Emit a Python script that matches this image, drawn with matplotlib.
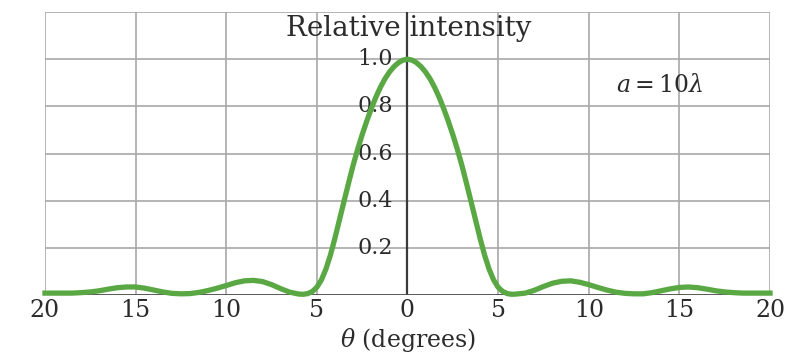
import matplotlib
matplotlib.use('Agg')
from matplotlib import pyplot as plt

# angle in degrees (finer steps across the central peak)
theta = [-20.0, -19.5, -19.0, -18.5, -18.0, -17.5, -17.0, -16.5, -16.0, -15.5,
         -15.0, -14.5, -14.0, -13.5, -13.0, -12.5, -12.0, -11.5, -11.0, -10.5,
         -10.0, -9.5, -9.0, -8.5, -8.0, -7.5, -7.0, -6.5,
         -6.0, -5.75, -5.5, -5.25, -5.0, -4.75, -4.5, -4.25, -4.0, -3.75,
         -3.5, -3.25, -3.0, -2.75, -2.5, -2.25, -2.0, -1.75, -1.5, -1.25,
         -1.0, -0.75, -0.5, -0.25, 0.0, 0.25, 0.5, 0.75, 1.0, 1.25,
         1.5, 1.75, 2.0, 2.25, 2.5, 2.75, 3.0, 3.25, 3.5, 3.75,
         4.0, 4.25, 4.5, 4.75, 5.0, 5.25, 5.5, 5.75, 6.0,
         6.5, 7.0, 7.5, 8.0, 8.5, 9.0, 9.5, 10.0, 10.5, 11.0,
         11.5, 12.0, 12.5, 13.0, 13.5, 14.0, 14.5, 15.0, 15.5, 16.0,
         16.5, 17.0, 17.5, 18.0, 18.5, 19.0, 19.5, 20.0]
# relative intensity
intensity = [0.008, 0.008, 0.008, 0.008, 0.010, 0.013, 0.018, 0.025, 0.031, 0.034,
             0.034, 0.029, 0.021, 0.013, 0.007, 0.005, 0.006, 0.011, 0.019, 0.029,
             0.040, 0.052, 0.060, 0.062, 0.057, 0.044, 0.027, 0.012,
             0.004, 0.003, 0.006, 0.015, 0.033, 0.064, 0.110, 0.170, 0.242, 0.320,
             0.398, 0.475, 0.550, 0.618, 0.680, 0.737, 0.790, 0.838, 0.880, 0.916,
             0.945, 0.968, 0.985, 0.996, 1.000, 0.996, 0.985, 0.968, 0.945, 0.916,
             0.880, 0.838, 0.790, 0.737, 0.680, 0.618, 0.550, 0.475, 0.398, 0.320,
             0.242, 0.170, 0.110, 0.064, 0.033, 0.015, 0.006, 0.003, 0.004,
             0.008, 0.020, 0.036, 0.050, 0.058, 0.060, 0.054, 0.044, 0.032, 0.021,
             0.012, 0.007, 0.005, 0.005, 0.010, 0.018, 0.026, 0.032, 0.034, 0.031,
             0.025, 0.018, 0.013, 0.010, 0.008, 0.008, 0.008, 0.008]

x_ticks = [-20, -15, -10, -5, 0, 5, 10, 15, 20]
x_labels = ['20', '15', '10', '5', '0', '5', '10', '15', '20']
y_ticks = [0.2, 0.4, 0.6, 0.8, 1.0]
y_labels = ['0.2', '0.4', '0.6', '0.8', '1.0']

serif = 'DejaVu Serif'
txt_col = '#2b2b2b'

fig = plt.figure(figsize=(8.02, 3.53), dpi=100)
ax = fig.add_axes([0.0561, 0.1643, 0.904, 0.8017])
ax.set_xlim(-20, 20)
ax.set_ylim(0, 1.2)

# grid
for xv in x_ticks:
    ax.axvline(xv, color='#a8a8a8', lw=1.2, zorder=1)
for yv in [0.2, 0.4, 0.6, 0.8, 1.0, 1.2]:
    ax.axhline(yv, color='#a8a8a8', lw=1.2, zorder=1)
ax.axvline(0, color='#3a3a3a', lw=1.6, zorder=2)
ax.axhline(0, color='#4a4a4a', lw=2.0, zorder=2)

for s in ax.spines.values():
    s.set_visible(False)
ax.set_xticks(x_ticks)
ax.set_xticklabels(x_labels, fontsize=17, family=serif, color=txt_col)
ax.tick_params(axis='x', length=0, pad=3)
ax.set_yticks([])

for yv, lab in zip(y_ticks, y_labels):
    ax.text(-0.8, yv, lab, ha='right', va='center', fontsize=16,
            family=serif, color=txt_col, zorder=3)

ax.plot(theta, intensity, color='#5aa843', lw=3.8, solid_joinstyle='round',
        zorder=4, clip_on=False)

ax.text(0.05, 1.13, 'Relative intensity', ha='center', va='center',
        fontsize=20, family=serif, color=txt_col, zorder=3)
ax.text(13.9, 0.89, r'$a = 10\lambda$', ha='center', va='center',
        fontsize=17, color=txt_col, zorder=3,
        math_fontfamily='dejavuserif')
ax.set_xlabel(r'$\theta$ (degrees)', fontsize=17, family=serif,
              color=txt_col, labelpad=3)
ax.xaxis.label.set_math_fontfamily('dejavuserif')

fig.savefig('out.png', dpi=100)
